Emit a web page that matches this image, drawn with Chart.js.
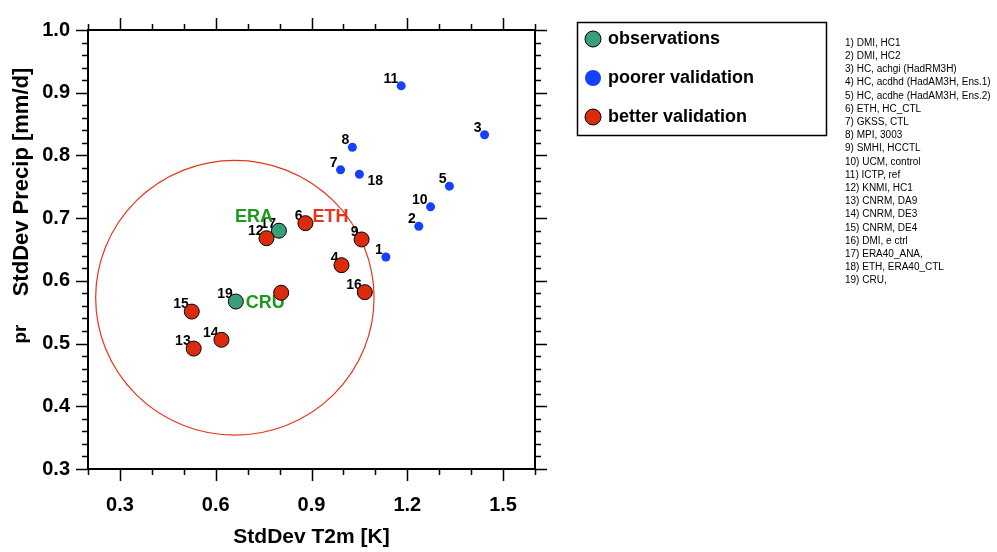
<!DOCTYPE html>
<html lang="en">
  <head>
    <meta charset="UTF-8" />
    <title>StdDev T2m vs StdDev Precip</title>
    <script src="https://cdn.jsdelivr.net/npm/chart.js"></script>
    <style>
      html,
      body {
        margin: 0;
        padding: 0;
        background: #fff;
      }
    </style>
  </head>
  <body>
    <canvas id="scatter" width="997" height="552"></canvas>

    <script>
      // observations
      const obsIds = ["17", "19"];
      const obsX = [0.798, 0.663];
      const obsY = [0.68, 0.567];

      // poorer validation
      const poorIds = ["1", "2", "3", "5", "7", "8", "10", "11", "18"];
      const poorX = [1.133, 1.236, 1.442, 1.332, 0.991, 1.028, 1.273, 1.181, 1.05];
      const poorY = [0.638, 0.687, 0.833, 0.751, 0.777, 0.813, 0.718, 0.911, 0.77];

      // better validation
      const goodIds = ["4", "6", "9", "12", "13", "14", "15", "16", ""];
      const goodX = [0.994, 0.881, 1.057, 0.759, 0.531, 0.618, 0.525, 1.067, 0.805];
      const goodY = [0.625, 0.692, 0.666, 0.668, 0.492, 0.506, 0.551, 0.582, 0.581];

      // named tags next to some points
      const tagNames = ["ERA", "ETH", "CRU"];
      const tagIds = ["17", "6", "19"];

      const xTicks = [0.3, 0.6, 0.9, 1.2, 1.5];
      const yTicks = [0.3, 0.4, 0.5, 0.6, 0.7, 0.8, 0.9, 1.0];

      // red reference circle (centre, radius in data units)
      const circleCenter = [0.66, 0.573];
      const circleRadius = [0.436, 0.219];

      const models = [
        "1) DMI, HC1",
        "2) DMI, HC2",
        "3) HC, achgi (HadRM3H)",
        "4) HC, acdhd (HadAM3H, Ens.1)",
        "5) HC, acdhe (HadAM3H, Ens.2)",
        "6) ETH, HC_CTL",
        "7) GKSS, CTL",
        "8) MPI, 3003",
        "9) SMHI, HCCTL",
        "10) UCM, control",
        "11) ICTP, ref",
        "12) KNMI, HC1",
        "13) CNRM, DA9",
        "14) CNRM, DE3",
        "15) CNRM, DE4",
        "16) DMI, e ctrl",
        "17) ERA40_ANA,",
        "18) ETH, ERA40_CTL",
        "19) CRU,",
      ];

      const FONT = '"Liberation Sans", Arial, sans-serif';
      const toPts = (xs, ys) => xs.map((v, i) => ({ x: v, y: ys[i] }));

      const decor = {
        id: "decor",
        beforeDatasetsDraw(chart) {
          const { ctx, scales } = chart;
          const x = scales.x, y = scales.y;
          ctx.save();

          // circle
          const cx = x.getPixelForValue(circleCenter[0]);
          const cy = y.getPixelForValue(circleCenter[1]);
          const rx = x.getPixelForValue(circleCenter[0] + circleRadius[0]) - cx;
          const ry = cy - y.getPixelForValue(circleCenter[1] + circleRadius[1]);
          ctx.beginPath();
          ctx.ellipse(cx, cy, rx, ry, 0, 0, 2 * Math.PI);
          ctx.strokeStyle = "#e8341c";
          ctx.lineWidth = 1.2;
          ctx.stroke();

          // point numbers (drawn under the markers)
          ctx.font = "bold 14px " + FONT;
          ctx.fillStyle = "#000";
          ctx.textBaseline = "middle";
          const where = {};
          chart.data.datasets.forEach((ds, i) => {
            chart.getDatasetMeta(i).data.forEach((pt, j) => {
              const id = ds.ids[j];
              if (!id) return;
              where[id] = pt;
              if (id === "18") {
                ctx.textAlign = "left";
                ctx.fillText(id, pt.x + 8, pt.y + 7);
              } else {
                ctx.textAlign = "right";
                ctx.fillText(id, pt.x - 3, pt.y - 7);
              }
            });
          });

          // ERA / ETH / CRU
          ctx.font = "bold 18px " + FONT;
          tagNames.forEach((name, i) => {
            const pt = where[tagIds[i]];
            if (!pt) return;
            if (name === "ERA") {
              ctx.fillStyle = "#1c9a1c";
              ctx.textAlign = "right";
              ctx.fillText(name, pt.x - 6, pt.y - 14);
            } else if (name === "ETH") {
              ctx.fillStyle = "#e8321e";
              ctx.textAlign = "left";
              ctx.fillText(name, pt.x + 7, pt.y - 6);
            } else {
              ctx.fillStyle = "#1c9a1c";
              ctx.textAlign = "left";
              ctx.fillText(name, pt.x + 10, pt.y + 1);
            }
          });
          ctx.restore();
        },
        afterDraw(chart) {
          const { ctx, chartArea: a, scales } = chart;
          const x = scales.x, y = scales.y;
          ctx.save();
          ctx.strokeStyle = "#000";

          // frame
          ctx.lineWidth = 2;
          ctx.strokeRect(a.left, a.top, a.right - a.left, a.bottom - a.top);

          // tick marks, outward on all four sides
          ctx.lineWidth = 1.5;
          ctx.beginPath();
          for (let k = 2; k <= 16; k++) {
            const v = k / 10;
            const px = Math.round(x.getPixelForValue(v)) + 0.5;
            const L = xTicks.some((t) => Math.abs(t - v) < 1e-6) ? 12 : 6;
            ctx.moveTo(px, a.bottom);
            ctx.lineTo(px, a.bottom + L);
            ctx.moveTo(px, a.top);
            ctx.lineTo(px, a.top - L);
          }
          for (let k = 15; k <= 50; k++) {
            const v = k / 50;
            const py = Math.round(y.getPixelForValue(v)) + 0.5;
            const L = yTicks.some((t) => Math.abs(t - v) < 1e-6) ? 12 : 6;
            ctx.moveTo(a.left, py);
            ctx.lineTo(a.left - L, py);
            ctx.moveTo(a.right, py);
            ctx.lineTo(a.right + L, py);
          }
          ctx.stroke();

          // y axis title
          ctx.fillStyle = "#000";
          ctx.textAlign = "center";
          ctx.textBaseline = "alphabetic";
          ctx.save();
          ctx.translate(28, 182);
          ctx.rotate(-Math.PI / 2);
          ctx.font = "bold 22px " + FONT;
          ctx.fillText("StdDev Precip [mm/d]", 0, 0);
          ctx.restore();
          ctx.save();
          ctx.translate(26, 334);
          ctx.rotate(-Math.PI / 2);
          ctx.font = "bold 19px " + FONT;
          ctx.fillText("pr", 0, 0);
          ctx.restore();

          // legend box
          ctx.lineWidth = 1.5;
          ctx.strokeRect(577.5, 22.5, 249, 113);
          ctx.font = "bold 18px " + FONT;
          ctx.textAlign = "left";
          ctx.textBaseline = "middle";
          chart.data.datasets.forEach((ds, i) => {
            const ly = 39 + i * 39;
            ctx.beginPath();
            ctx.arc(593, ly, 8, 0, 2 * Math.PI);
            ctx.fillStyle = ds.pointBackgroundColor;
            ctx.fill();
            if (ds.pointBorderWidth > 0) {
              ctx.lineWidth = 1;
              ctx.strokeStyle = "#000";
              ctx.stroke();
            }
            ctx.fillStyle = "#000";
            ctx.fillText(ds.label, 608, ly);
          });

          // model list
          ctx.font = "10px " + FONT;
          models.forEach((m, i) => ctx.fillText(m, 845, 43 + i * 13.2));
          ctx.restore();
        },
      };

      new Chart(document.getElementById("scatter"), {
        type: "scatter",
        data: {
          datasets: [
            {
              label: "observations",
              ids: obsIds,
              data: toPts(obsX, obsY),
              pointBackgroundColor: "#3a9e78",
              pointBorderColor: "#000",
              pointBorderWidth: 1,
              pointRadius: 7.5,
              order: 3,
            },
            {
              label: "poorer validation",
              ids: poorIds,
              data: toPts(poorX, poorY),
              pointBackgroundColor: "#1440ff",
              pointBorderColor: "#1440ff",
              pointBorderWidth: 0,
              pointRadius: 4.5,
              order: 2,
            },
            {
              label: "better validation",
              ids: goodIds,
              data: toPts(goodX, goodY),
              pointBackgroundColor: "#dc2a0c",
              pointBorderColor: "#000",
              pointBorderWidth: 1,
              pointRadius: 7.5,
              order: 1,
            },
          ],
        },
        options: {
          responsive: false,
          animation: false,
          layout: { padding: { left: 0, top: 22, right: 462, bottom: 0 } },
          plugins: {
            legend: { display: false },
            tooltip: { enabled: false },
          },
          scales: {
            x: {
              type: "linear",
              min: 0.2,
              max: 1.6,
              afterBuildTicks: (s) => {
                s.ticks = xTicks.map((v) => ({ value: v }));
              },
              afterFit: (s) => {
                s.height = 83;
              },
              grid: { display: false, drawTicks: false },
              border: { display: false },
              ticks: {
                padding: 24,
                color: "#000",
                font: { family: FONT, size: 20, weight: "bold" },
                callback: (v) => v.toFixed(1),
              },
              title: {
                display: true,
                text: "StdDev T2m [K]",
                color: "#000",
                font: { family: FONT, size: 21, weight: "bold" },
                padding: { top: 0, bottom: 2 },
              },
            },
            y: {
              type: "linear",
              min: 0.3,
              max: 1.0,
              afterBuildTicks: (s) => {
                s.ticks = yTicks.map((v) => ({ value: v }));
              },
              afterFit: (s) => {
                s.width = 88;
              },
              grid: { display: false, drawTicks: false },
              border: { display: false },
              ticks: {
                padding: 18,
                color: "#000",
                font: { family: FONT, size: 20, weight: "bold" },
                callback: (v) => v.toFixed(1),
              },
            },
          },
        },
        plugins: [decor],
      });
    </script>
  </body>
</html>
